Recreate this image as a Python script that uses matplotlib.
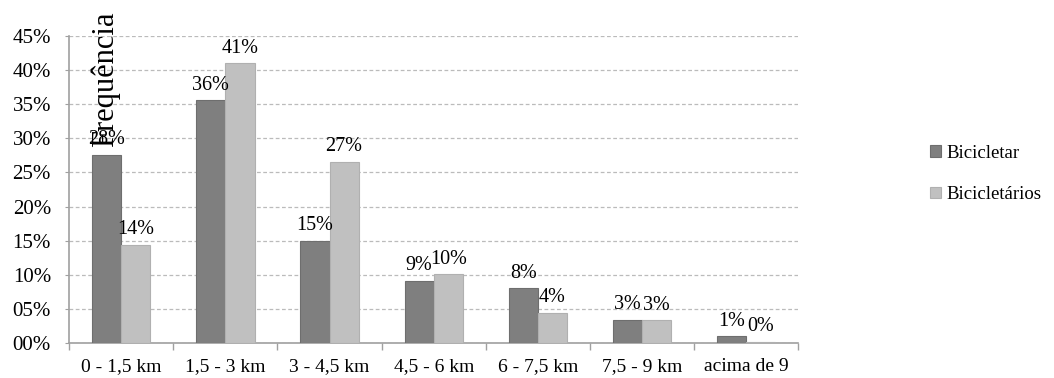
import numpy as np
import matplotlib
matplotlib.use('Agg')
import matplotlib.pyplot as plt
from matplotlib.ticker import FuncFormatter

# Data
categories = ['0 - 1,5 km', '1,5 - 3 km', '3 - 4,5 km', '4,5 - 6 km',
              '6 - 7,5 km', '7,5 - 9 km', 'acima de 9']
bicicletar = [27.6, 35.6, 15.0, 9.1, 8.0, 3.4, 1.0]
bicicletarios = [14.4, 41.0, 26.6, 10.1, 4.4, 3.3, 0.2]
series_names = ['Bicicletar', 'Bicicletários']

plt.rcParams['font.family'] = ['Liberation Serif', 'DejaVu Serif']

fig = plt.figure(figsize=(10.54, 3.78), dpi=100)
ax = fig.add_axes([0.0655, 0.0926, 0.692, 0.812])

x = np.arange(len(categories))
w = 0.28
b1 = ax.bar(x - w / 2, bicicletar, w, color='#7f7f7f', edgecolor='#6e6e6e',
            linewidth=0.8, label=series_names[0], zorder=3)
b2 = ax.bar(x + w / 2, bicicletarios, w, color='#c0c0c0', edgecolor='#b0b0b0',
            linewidth=0.8, label=series_names[1], zorder=3)

# Value labels
ax.bar_label(b1, fmt='{:.0f}%', padding=4, fontsize=14.5)
ax.bar_label(b2, fmt='{:.0f}%', padding=4, fontsize=14.5)

# Axes
ax.set_ylim(0, 45)
ax.set_xlim(-0.5, len(categories) - 0.5)
ax.set_yticks(np.arange(0, 46, 5))
ax.yaxis.set_major_formatter(FuncFormatter(lambda v, p: '%02d%%' % v))
ax.tick_params(axis='y', labelsize=15, length=3, color='#a0a0a0', pad=10)
ax.grid(axis='y', linestyle=(0, (3, 2)), color='#bbbbbb', linewidth=0.9, zorder=0)

ax.set_xticks(x)
ax.set_xticklabels(categories)
ax.tick_params(axis='x', which='major', length=0, labelsize=14, pad=11)
ax.set_xticks(np.arange(-0.5, len(categories)), minor=True)
ax.tick_params(axis='x', which='minor', length=5, color='#a0a0a0', width=1)

for s in ['top', 'right']:
    ax.spines[s].set_visible(False)
for s in ['left', 'bottom']:
    ax.spines[s].set_color('#a0a0a0')
    ax.spines[s].set_linewidth(1.2)

ax.set_ylabel('Frequência', fontsize=22)
ax.yaxis.set_label_coords(0.07, 0.86)

fig.legend(loc='center left', bbox_to_anchor=(0.866, 0.54), frameon=False,
           fontsize=13.5, handlelength=0.6, handleheight=0.6, handletextpad=0.3,
           labelspacing=1.3)

fig.savefig('out.png', dpi=100)
